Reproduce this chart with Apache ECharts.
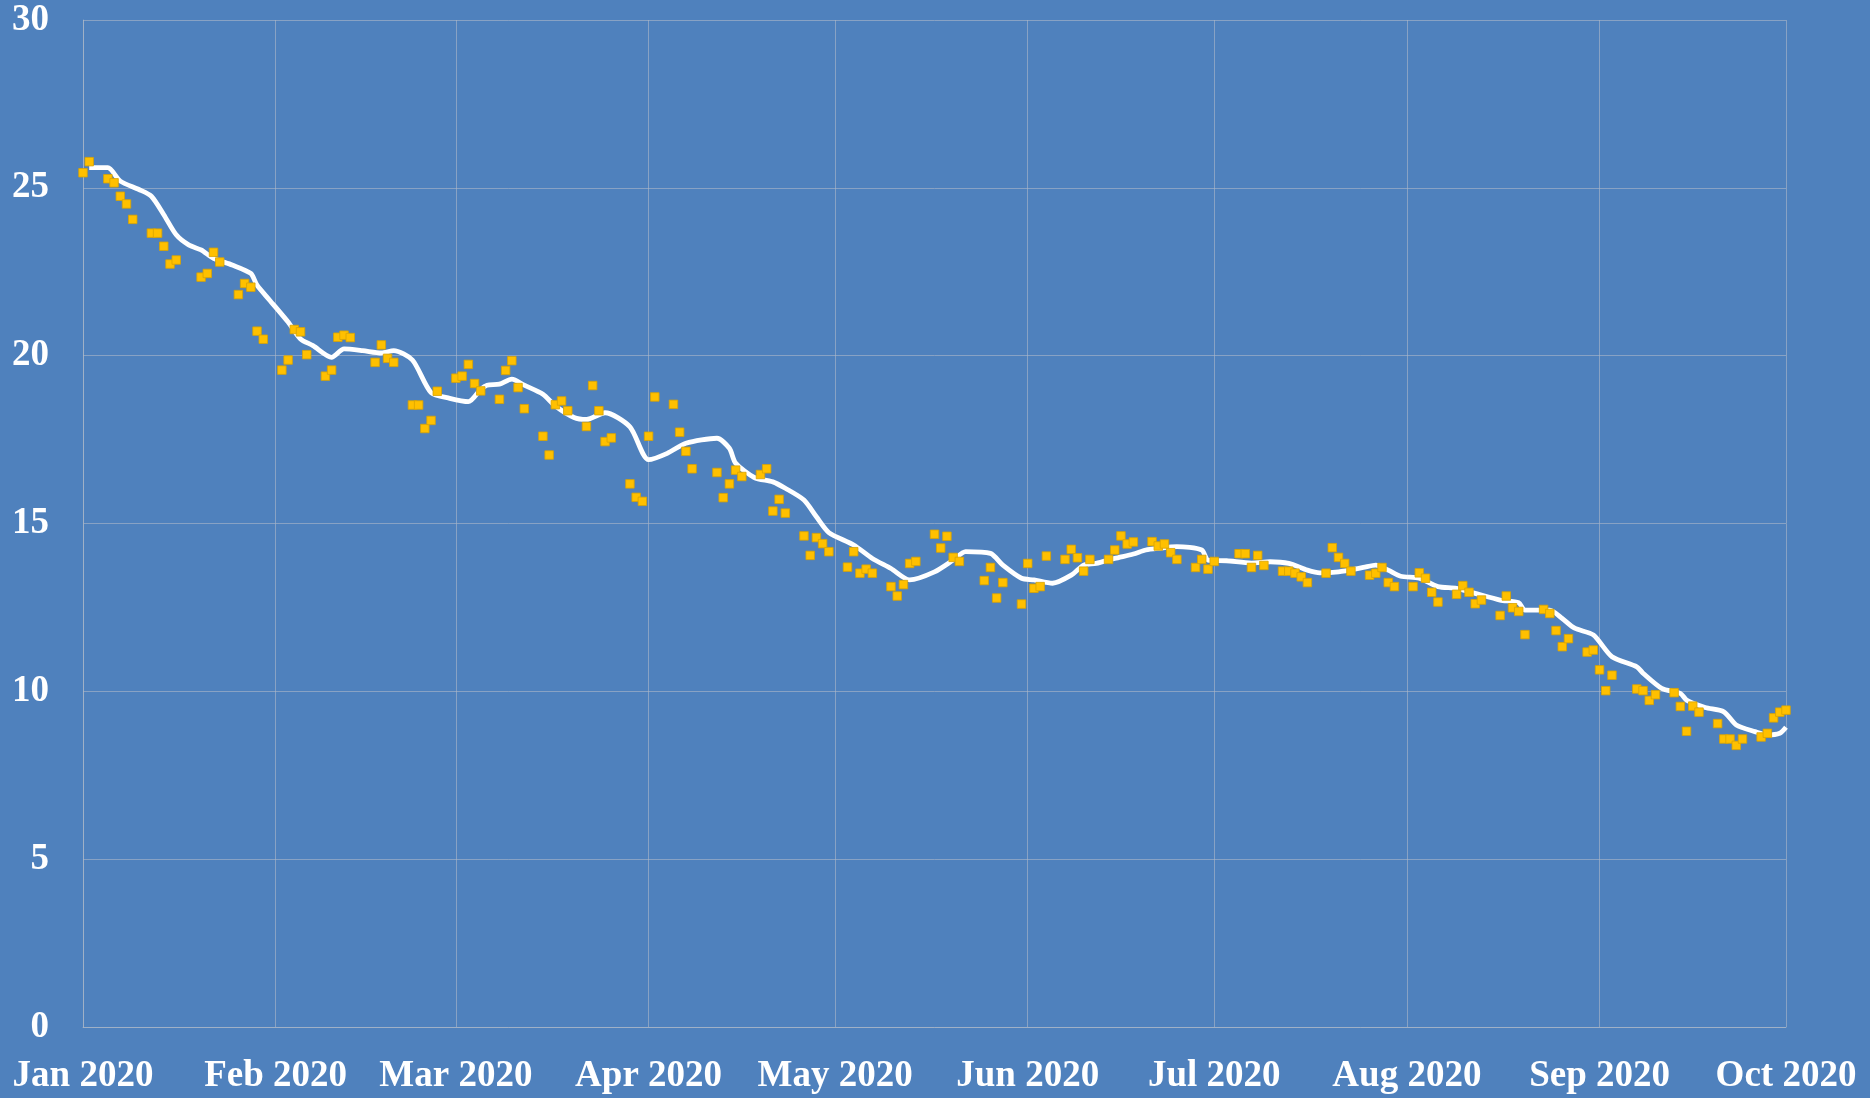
<!DOCTYPE html>
<html>
<head>
<meta charset="utf-8">
<script src="https://cdn.jsdelivr.net/npm/echarts@6/dist/echarts.min.js"></script>
<style>
  html, body { margin: 0; padding: 0; background: #4F81BD; }
  #chart { width: 1870px; height: 1098px; }
</style>
</head>
<body>
<div id="chart"></div>
<script>
// ---- Data ----
const monthTicks = ['2020-01-01','2020-02-01','2020-03-01','2020-04-01','2020-05-01','2020-06-01','2020-07-01','2020-08-01','2020-09-01','2020-10-01'];
const monthLabels = ['Jan 2020','Feb 2020','Mar 2020','Apr 2020','May 2020','Jun 2020','Jul 2020','Aug 2020','Sep 2020','Oct 2020'];
const yTicks = [0, 5, 10, 15, 20, 25, 30];

const pointDates = [
 '2020-01-01','2020-01-02','2020-01-05','2020-01-06','2020-01-07','2020-01-08','2020-01-09',
 '2020-01-12','2020-01-13','2020-01-14','2020-01-15','2020-01-16',
 '2020-01-20','2020-01-21','2020-01-22','2020-01-23',
 '2020-01-26','2020-01-27','2020-01-28','2020-01-29','2020-01-30',
 '2020-02-02','2020-02-03','2020-02-04','2020-02-05','2020-02-06',
 '2020-02-09','2020-02-10','2020-02-11','2020-02-12','2020-02-13',
 '2020-02-17','2020-02-18','2020-02-19','2020-02-20',
 '2020-02-23','2020-02-24','2020-02-25','2020-02-26','2020-02-27',
 '2020-03-01','2020-03-02','2020-03-03','2020-03-04','2020-03-05',
 '2020-03-08','2020-03-09','2020-03-10','2020-03-11','2020-03-12',
 '2020-03-15','2020-03-16','2020-03-17','2020-03-18','2020-03-19',
 '2020-03-22','2020-03-23','2020-03-24','2020-03-25','2020-03-26',
 '2020-03-29','2020-03-30','2020-03-31','2020-04-01','2020-04-02',
 '2020-04-05','2020-04-06','2020-04-07','2020-04-08',
 '2020-04-12','2020-04-13','2020-04-14','2020-04-15','2020-04-16',
 '2020-04-19','2020-04-20','2020-04-21','2020-04-22','2020-04-23',
 '2020-04-26','2020-04-27','2020-04-28','2020-04-29','2020-04-30',
 '2020-05-03','2020-05-04','2020-05-05','2020-05-06','2020-05-07',
 '2020-05-10','2020-05-11','2020-05-12','2020-05-13','2020-05-14',
 '2020-05-17','2020-05-18','2020-05-19','2020-05-20','2020-05-21',
 '2020-05-25','2020-05-26','2020-05-27','2020-05-28',
 '2020-05-31','2020-06-01','2020-06-02','2020-06-03','2020-06-04',
 '2020-06-07','2020-06-08','2020-06-09','2020-06-10','2020-06-11',
 '2020-06-14','2020-06-15','2020-06-16','2020-06-17','2020-06-18',
 '2020-06-21','2020-06-22','2020-06-23','2020-06-24','2020-06-25',
 '2020-06-28','2020-06-29','2020-06-30','2020-07-01',
 '2020-07-05','2020-07-06','2020-07-07','2020-07-08','2020-07-09',
 '2020-07-12','2020-07-13','2020-07-14','2020-07-15','2020-07-16',
 '2020-07-19','2020-07-20','2020-07-21','2020-07-22','2020-07-23',
 '2020-07-26','2020-07-27','2020-07-28','2020-07-29','2020-07-30',
 '2020-08-02','2020-08-03','2020-08-04','2020-08-05','2020-08-06',
 '2020-08-09','2020-08-10','2020-08-11','2020-08-12','2020-08-13',
 '2020-08-16','2020-08-17','2020-08-18','2020-08-19','2020-08-20',
 '2020-08-23','2020-08-24','2020-08-25','2020-08-26','2020-08-27',
 '2020-08-30','2020-08-31','2020-09-01','2020-09-02','2020-09-03',
 '2020-09-07','2020-09-08','2020-09-09','2020-09-10',
 '2020-09-13','2020-09-14','2020-09-15','2020-09-16','2020-09-17',
 '2020-09-20','2020-09-21','2020-09-22','2020-09-23','2020-09-24',
 '2020-09-27','2020-09-28','2020-09-29','2020-09-30','2020-10-01'
];
const pointValues = [
 25.45,25.78,25.27,25.15,24.75,24.52,24.06,
 23.65,23.65,23.26,22.73,22.85,
 22.34,22.45,23.08,22.79,
 21.82,22.15,22.04,20.73,20.49,
 19.57,19.87,20.78,20.71,20.03,
 19.39,19.57,20.55,20.61,20.54,
 19.80,20.32,19.92,19.80,
 18.53,18.53,17.83,18.07,18.94,
 19.33,19.39,19.74,19.17,18.95,
 18.70,19.56,19.85,19.05,18.42,
 17.60,17.04,18.54,18.65,18.36,
 17.89,19.11,18.36,17.44,17.55,
 16.18,15.78,15.66,17.60,18.77,
 18.55,17.72,17.15,16.63,
 16.52,15.77,16.18,16.59,16.40,
 16.46,16.63,15.37,15.72,15.31,
 14.63,14.05,14.58,14.40,14.16,
 13.70,14.16,13.52,13.64,13.52,
 13.12,12.84,13.18,13.81,13.87,
 14.68,14.27,14.62,13.99,13.87,
 13.30,13.69,12.78,13.24,
 12.60,13.81,13.07,13.12,14.03,
 13.93,14.23,13.98,13.58,13.93,
 13.93,14.21,14.63,14.39,14.45,
 14.46,14.33,14.39,14.13,13.93,
 13.69,13.93,13.64,13.87,
 14.10,14.10,13.69,14.05,13.75,
 13.58,13.58,13.52,13.41,13.24,
 13.52,14.28,13.99,13.81,13.58,
 13.46,13.52,13.69,13.24,13.12,
 13.12,13.53,13.37,12.95,12.66,
 12.89,13.15,12.95,12.61,12.72,
 12.26,12.84,12.49,12.38,11.69,
 12.44,12.32,11.81,11.33,11.57,
 11.17,11.23,10.64,10.02,10.48,
 10.07,10.02,9.73,9.90,
 9.96,9.55,8.81,9.56,9.38,
 9.04,8.58,8.58,8.39,8.58,
 8.64,8.75,9.21,9.38,9.44
];

const lineDates = [
 '2020-01-02','2020-01-03','2020-01-05','2020-01-07','2020-01-10','2020-01-12','2020-01-14','2020-01-16',
 '2020-01-18','2020-01-20','2020-01-22','2020-01-25','2020-01-28','2020-01-29','2020-01-31',
 '2020-02-03','2020-02-05','2020-02-07','2020-02-10','2020-02-12','2020-02-15','2020-02-18','2020-02-20',
 '2020-02-23','2020-02-26','2020-02-29','2020-03-03','2020-03-05','2020-03-06','2020-03-08','2020-03-10',
 '2020-03-12','2020-03-15','2020-03-17','2020-03-20','2020-03-22','2020-03-25','2020-03-29',
 '2020-04-01','2020-04-04','2020-04-07','2020-04-12','2020-04-14','2020-04-15','2020-04-18','2020-04-21',
 '2020-04-23','2020-04-26','2020-04-28','2020-04-30','2020-05-04','2020-05-07','2020-05-10','2020-05-13',
 '2020-05-17','2020-05-20','2020-05-22','2020-05-26','2020-05-28','2020-05-31','2020-06-02','2020-06-05',
 '2020-06-08','2020-06-10','2020-06-12','2020-06-15','2020-06-18','2020-06-20','2020-06-22','2020-06-25',
 '2020-06-29','2020-06-30','2020-07-03','2020-07-07','2020-07-10','2020-07-13','2020-07-16','2020-07-18',
 '2020-07-21','2020-07-25','2020-07-27','2020-07-29','2020-07-31','2020-08-03','2020-08-06','2020-08-09',
 '2020-08-12','2020-08-16','2020-08-19','2020-08-20','2020-08-24','2020-08-26','2020-08-28','2020-08-31',
 '2020-09-03','2020-09-07','2020-09-08','2020-09-11','2020-09-14','2020-09-15','2020-09-18','2020-09-21',
 '2020-09-23','2020-09-26','2020-09-28','2020-09-30','2020-10-01'
];
const lineValues = [
 25.6,25.6,25.6,25.2,24.95,24.75,24.2,23.6,
 23.3,23.15,22.9,22.7,22.45,22.1,21.66,
 21.0,20.5,20.3,19.95,20.2,20.15,20.08,20.15,
 19.87,18.9,18.73,18.63,19.0,19.12,19.15,19.3,
 19.12,18.85,18.5,18.16,18.1,18.3,17.88,
 16.9,17.09,17.39,17.54,17.24,16.8,16.37,16.24,
 16.05,15.7,15.2,14.73,14.36,13.96,13.66,13.32,
 13.56,13.91,14.16,14.11,13.76,13.37,13.32,13.22,
 13.46,13.76,13.81,13.96,14.09,14.21,14.26,14.31,
 14.21,13.91,13.89,13.82,13.86,13.81,13.61,13.53,
 13.56,13.69,13.76,13.61,13.43,13.37,13.12,13.07,
 12.92,12.72,12.64,12.42,12.42,12.17,11.88,11.68,
 11.03,10.73,10.54,10.09,9.94,9.74,9.52,9.39,
 9.0,8.8,8.7,8.75,8.93
];

// ---- Chart ----
function ts(s) { const p = s.split('-'); return new Date(+p[0], +p[1] - 1, +p[2]).getTime(); }
const tickTs = monthTicks.map(ts);
const gridColor = 'rgba(175,185,200,0.6)';
const fontFamily = '"Liberation Serif", "DejaVu Serif", serif';

const chart = echarts.init(document.getElementById('chart'), null, { renderer: 'canvas' });
chart.setOption({
  backgroundColor: '#4F81BD',
  animation: false,
  grid: { left: 83, right: 84, top: 20, bottom: 71 },
  xAxis: {
    type: 'value',
    min: tickTs[0],
    max: tickTs[tickTs.length - 1],
    axisLine: { show: true, lineStyle: { color: gridColor, width: 1 } },
    axisTick: { show: false, customValues: tickTs },
    splitLine: { show: true, lineStyle: { color: gridColor, width: 1 } },
    axisLabel: {
      customValues: tickTs,
      showMinLabel: true,
      showMaxLabel: true,
      margin: 31,
      color: '#FFFFFF',
      fontFamily: fontFamily,
      fontWeight: 'bold',
      fontSize: 37,
      formatter: function (v) {
        const i = tickTs.indexOf(v);
        return i >= 0 ? monthLabels[i] : '';
      }
    }
  },
  yAxis: {
    type: 'value',
    min: yTicks[0],
    max: yTicks[yTicks.length - 1],
    interval: 5,
    axisLine: { show: true, lineStyle: { color: gridColor, width: 1 } },
    axisTick: { show: false },
    splitLine: { show: true, lineStyle: { color: gridColor, width: 1 } },
    axisLabel: {
      margin: 34,
      color: '#FFFFFF',
      fontFamily: fontFamily,
      fontWeight: 'bold',
      fontSize: 37
    }
  },
  series: [
    {
      type: 'line',
      data: lineDates.map((d, i) => [ts(d), lineValues[i]]),
      showSymbol: false,
      smooth: 0.25,
      lineStyle: { color: '#FFFFFF', width: 4.8 },
      z: 2
    },
    {
      type: 'scatter',
      data: pointDates.map((d, i) => [ts(d), pointValues[i]]),
      symbol: 'rect',
      symbolSize: 8.5,
      itemStyle: { color: '#FFC000', borderColor: '#D9A300', borderWidth: 0.8, opacity: 1 },
      z: 3
    }
  ]
});
</script>
</body>
</html>
